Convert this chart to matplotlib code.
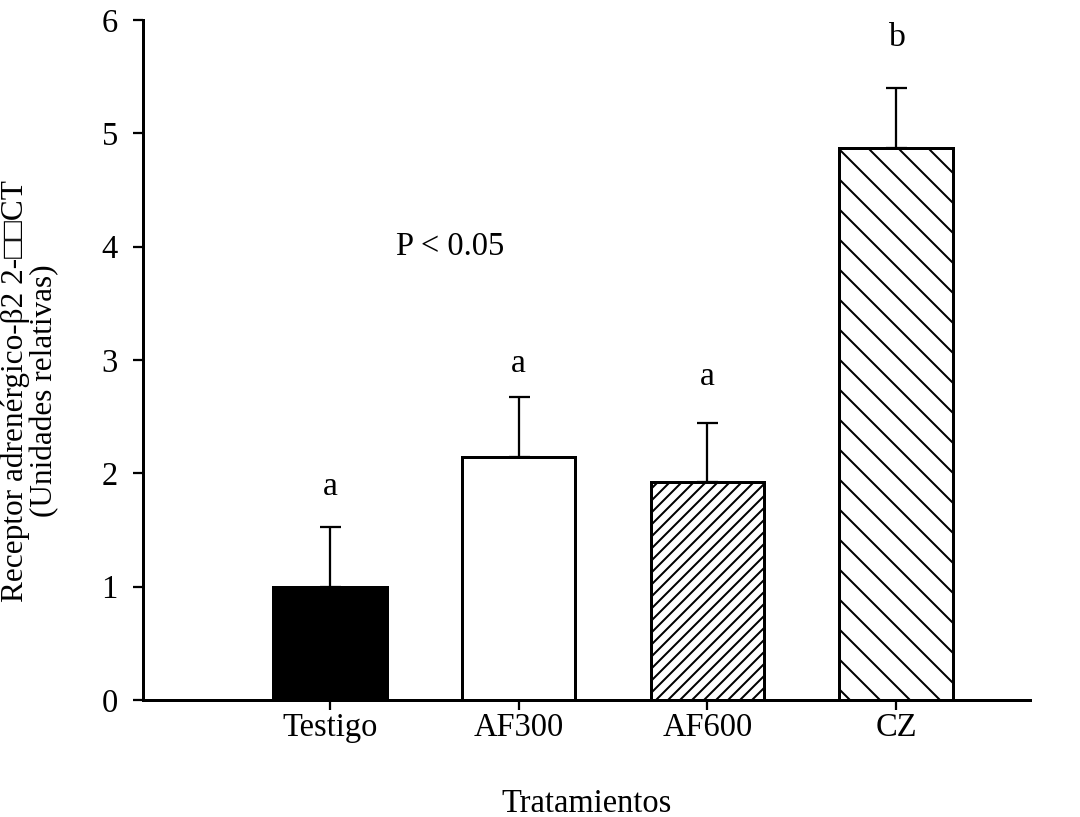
import matplotlib
matplotlib.use("Agg")
import matplotlib.pyplot as plt

plt.rcParams['font.family'] = ['Liberation Serif', 'DejaVu Sans']
plt.rcParams['hatch.linewidth'] = 0.8
plt.rcParams['hatch.color'] = 'black'

categories = ["Testigo", "AF300", "AF600", "CZ"]
values = [1.00, 2.14, 1.92, 4.87]
errors = [0.53, 0.53, 0.52, 0.53]
letters = ["a", "a", "a", "b"]
letter_y = [1.81, 2.89, 2.78, 5.77]
facecolors = ["black", "white", "white", "white"]
hatches = [None, None, "/////", "\\\\"]

fig = plt.figure(figsize=(6.0, 817 / 180), dpi=180)
ax = fig.add_axes([143 / 1080, 1 - 700 / 817, 887 / 1080, 680 / 817])

x = list(range(len(categories)))
bars = ax.bar(x, values, width=0.6, color=facecolors, edgecolor="black",
              linewidth=1.2, zorder=2)
for b, h in zip(bars, hatches):
    if h:
        b.set_hatch(h)
ax.errorbar(x, values, yerr=[[0] * len(errors), errors], fmt="none",
            ecolor="black", elinewidth=0.9, capsize=4.2, capthick=0.9, zorder=1)

for xi, lt, ly in zip(x, letters, letter_y):
    ax.text(xi, ly, lt, ha="center", va="baseline", fontsize=13.5)

ax.text(0.635, 3.93, "P < 0.05", ha="center", va="baseline", fontsize=13)

ax.set_xlim(-0.991, 3.710)
ax.set_ylim(0, 6)
ax.set_yticks([0, 1, 2, 3, 4, 5, 6])
ax.set_xticks(x)
ax.set_xticklabels(categories)
ax.tick_params(axis="both", direction="out", length=4, width=0.9,
               labelsize=13, colors="black")
ax.tick_params(axis="y", pad=6)
ax.tick_params(axis="x", pad=1)
for s in ["top", "right"]:
    ax.spines[s].set_visible(False)
for s in ["left", "bottom"]:
    ax.spines[s].set_linewidth(1.2)

ax.set_xlabel("Tratamientos", fontsize=13, labelpad=18)
ax.set_ylabel("Receptor adrenérgico-β2 2-□□CT\n(Unidades relativas)",
              fontsize=12.5, multialignment="center", linespacing=0.98)
ax.yaxis.set_label_coords(-0.095, 0.455)

fig.savefig("out.png", dpi=180)
